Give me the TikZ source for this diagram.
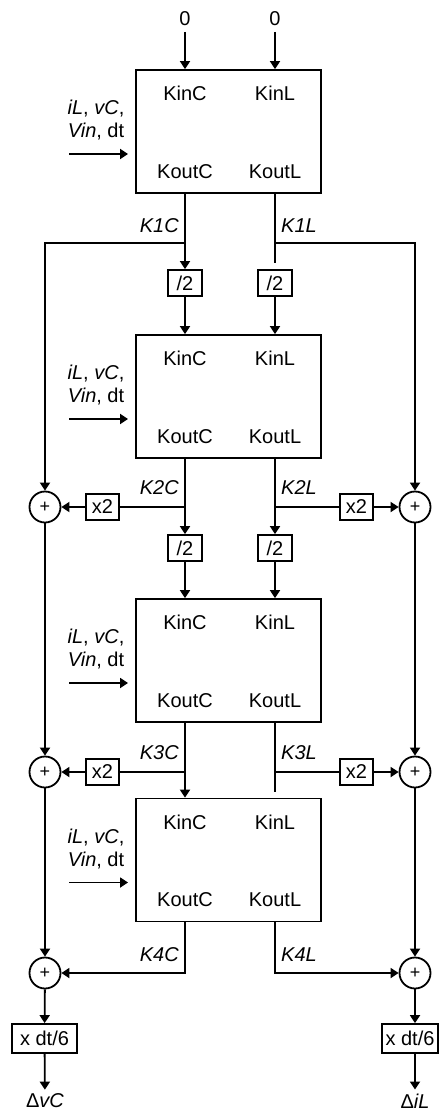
\documentclass[tikz,border=0pt]{standalone}
\usepackage{fontspec}
\setmainfont{Liberation Sans}
\usetikzlibrary{arrows.meta}

\begin{document}
\begin{tikzpicture}[x=1pt, y=-1pt, line width=1.8pt,
	every node/.style={font=\fontsize{20}{23}\selectfont},
	arr/.style={-{Triangle[length=8pt,width=10pt]}},
	blk/.style={draw, rectangle, minimum width=185pt, minimum height=123pt, inner sep=0pt},
	sbox/.style={draw, rectangle, minimum width=34pt, minimum height=26pt, inner sep=0pt},
	sumc/.style={draw, circle, minimum size=31pt, inner sep=0pt, font=\fontsize{18}{20}\selectfont},
	klab/.style={font=\fontsize{20}{23}\selectfont\itshape}]
	\useasboundingbox (0,0) rectangle (442,1113);
	
	% 1. four stage blocks with their inputs
	\foreach \i/\yc in {1/131.5, 2/396.5, 3/660.5, 4/860} {
		\node[blk] (b\i) at (228.5,\yc) {};
		\node (kic\i) at (185,\yc-38) {KinC};
		\node (kil\i) at (275,\yc-38) {KinL};
		\node (koc\i) at (185,\yc+40) {KoutC};
		\node (kol\i) at (275,\yc+40) {KoutL};
		\node[align=center] (in\i) at (96,\yc-11) {\textit{iL}, \textit{vC},\\\textit{Vin}, dt};
		\coordinate (s\i) at (69,\yc+22.5);
		\coordinate (t\i) at (128,\yc+22.5);
		\draw[arr] (s\i) -- (t\i);
	}
	
	% 2. initial values
	\node (zc) at (185,19) {0};
	\node (zl) at (275,19) {0};
	\coordinate (z0c) at (185,32);
	\coordinate (z0l) at (275,32);
	\draw[arr] (z0c) -- (z0c |- b1.north);
	\draw[arr] (z0l) -- (z0l |- b1.north);
	
	% 3. small boxes and adders
	\node[sbox] (h1c) at (185,283) {/2};
	\node[sbox] (h1l) at (275,283) {/2};
	\node[sbox] (h2c) at (185,548) {/2};
	\node[sbox] (h2l) at (275,548) {/2};
	\node[sbox, minimum width=33pt] (m2c) at (102.5,507) {x2};
	\node[sbox, minimum width=33pt] (m2l) at (356.5,507) {x2};
	\node[sbox, minimum width=33pt] (m3c) at (102.5,772) {x2};
	\node[sbox, minimum width=33pt] (m3l) at (356.5,772) {x2};
	\foreach \j/\yy in {1/507, 2/772, 3/973} {
		\node[sumc] (p\j) at (45,\yy) {+};
		\node[sumc] (q\j) at (415,\yy) {+};
	}
	\node[sbox, minimum width=65pt, minimum height=29pt] (oc) at (44.5,1038.5) {x dt/6};
	\node[sbox, minimum width=56pt, minimum height=29pt] (ol) at (410,1038.5) {x dt/6};
	\node (dvc) at (45,1101) {Δ\textit{vC}};
	\node (dil) at (415,1101) {Δ\textit{iL}};
	
	% 4. slope labels
	\node[klab, anchor=east] (k1c) at (183,226) {K1C};
	\node[klab, anchor=west] (k1l) at (277,226) {K1L};
	\node[klab, anchor=east] (k2c) at (183,488) {K2C};
	\node[klab, anchor=west] (k2l) at (277,488) {K2L};
	\node[klab, anchor=east] (k3c) at (183,753) {K3C};
	\node[klab, anchor=west] (k3l) at (277,753) {K3L};
	\node[klab, anchor=east] (k4c) at (183,955) {K4C};
	\node[klab, anchor=west] (k4l) at (277,955) {K4L};
	
	% 5. stage 1 outputs
	\coordinate (j1c) at (185,243);
	\coordinate (j1l) at (275,243);
	\coordinate (e1l) at (275,263);
	\draw (b1.south -| j1c) -- (j1c);
	\draw[arr] (j1c) -- (h1c);
	\draw[arr] (j1c) -| (p1);
	\draw (b1.south -| j1l) -- (e1l);
	\draw[arr] (j1l) -| (q1);
	\draw[arr] (h1c) -- (h1c |- b2.north);
	\draw[arr] (h1l) -- (h1l |- b2.north);
	
	% 6. stage 2 outputs
	\coordinate (j2c) at (185,507);
	\coordinate (j2l) at (275,507);
	\draw[arr] (b2.south -| j2c) -- (h2c);
	\draw[arr] (b2.south -| j2l) -- (h2l);
	\draw (j2c) -- (m2c);
	\draw[arr] (m2c) -- (p1);
	\draw (j2l) -- (m2l);
	\draw[arr] (m2l) -- (q1);
	\draw[arr] (h2c) -- (h2c |- b3.north);
	\draw[arr] (h2l) -- (h2l |- b3.north);
	
	% 7. stage 3 outputs
	\coordinate (j3c) at (185,772);
	\coordinate (j3l) at (275,772);
	\coordinate (e3l) at (275,792);
	\draw[arr] (b3.south -| j3c) -- (b4.north -| j3c);
	\draw (b3.south -| j3l) -- (e3l);
	\draw (j3c) -- (m3c);
	\draw[arr] (m3c) -- (p2);
	\draw (j3l) -- (m3l);
	\draw[arr] (m3l) -- (q2);
	
	% 8. stage 4 outputs and sums
	\coordinate (j4c) at (185,973);
	\coordinate (j4l) at (275,973);
	\draw[arr] (b4.south -| j4c) -- (j4c) -- (p3);
	\draw[arr] (b4.south -| j4l) -- (j4l) -- (q3);
	\draw[arr] (p1) -- (p2);
	\draw[arr] (p2) -- (p3);
	\draw[arr] (q1) -- (q2);
	\draw[arr] (q2) -- (q3);
	\draw[arr] (p3) -- (oc);
	\draw[arr] (q3) -- (q3 |- ol.north);
	\draw[arr] (oc) -- (dvc);
	\draw[arr] (ol.south -| dil) -- (dil);
\end{tikzpicture}
\end{document}
